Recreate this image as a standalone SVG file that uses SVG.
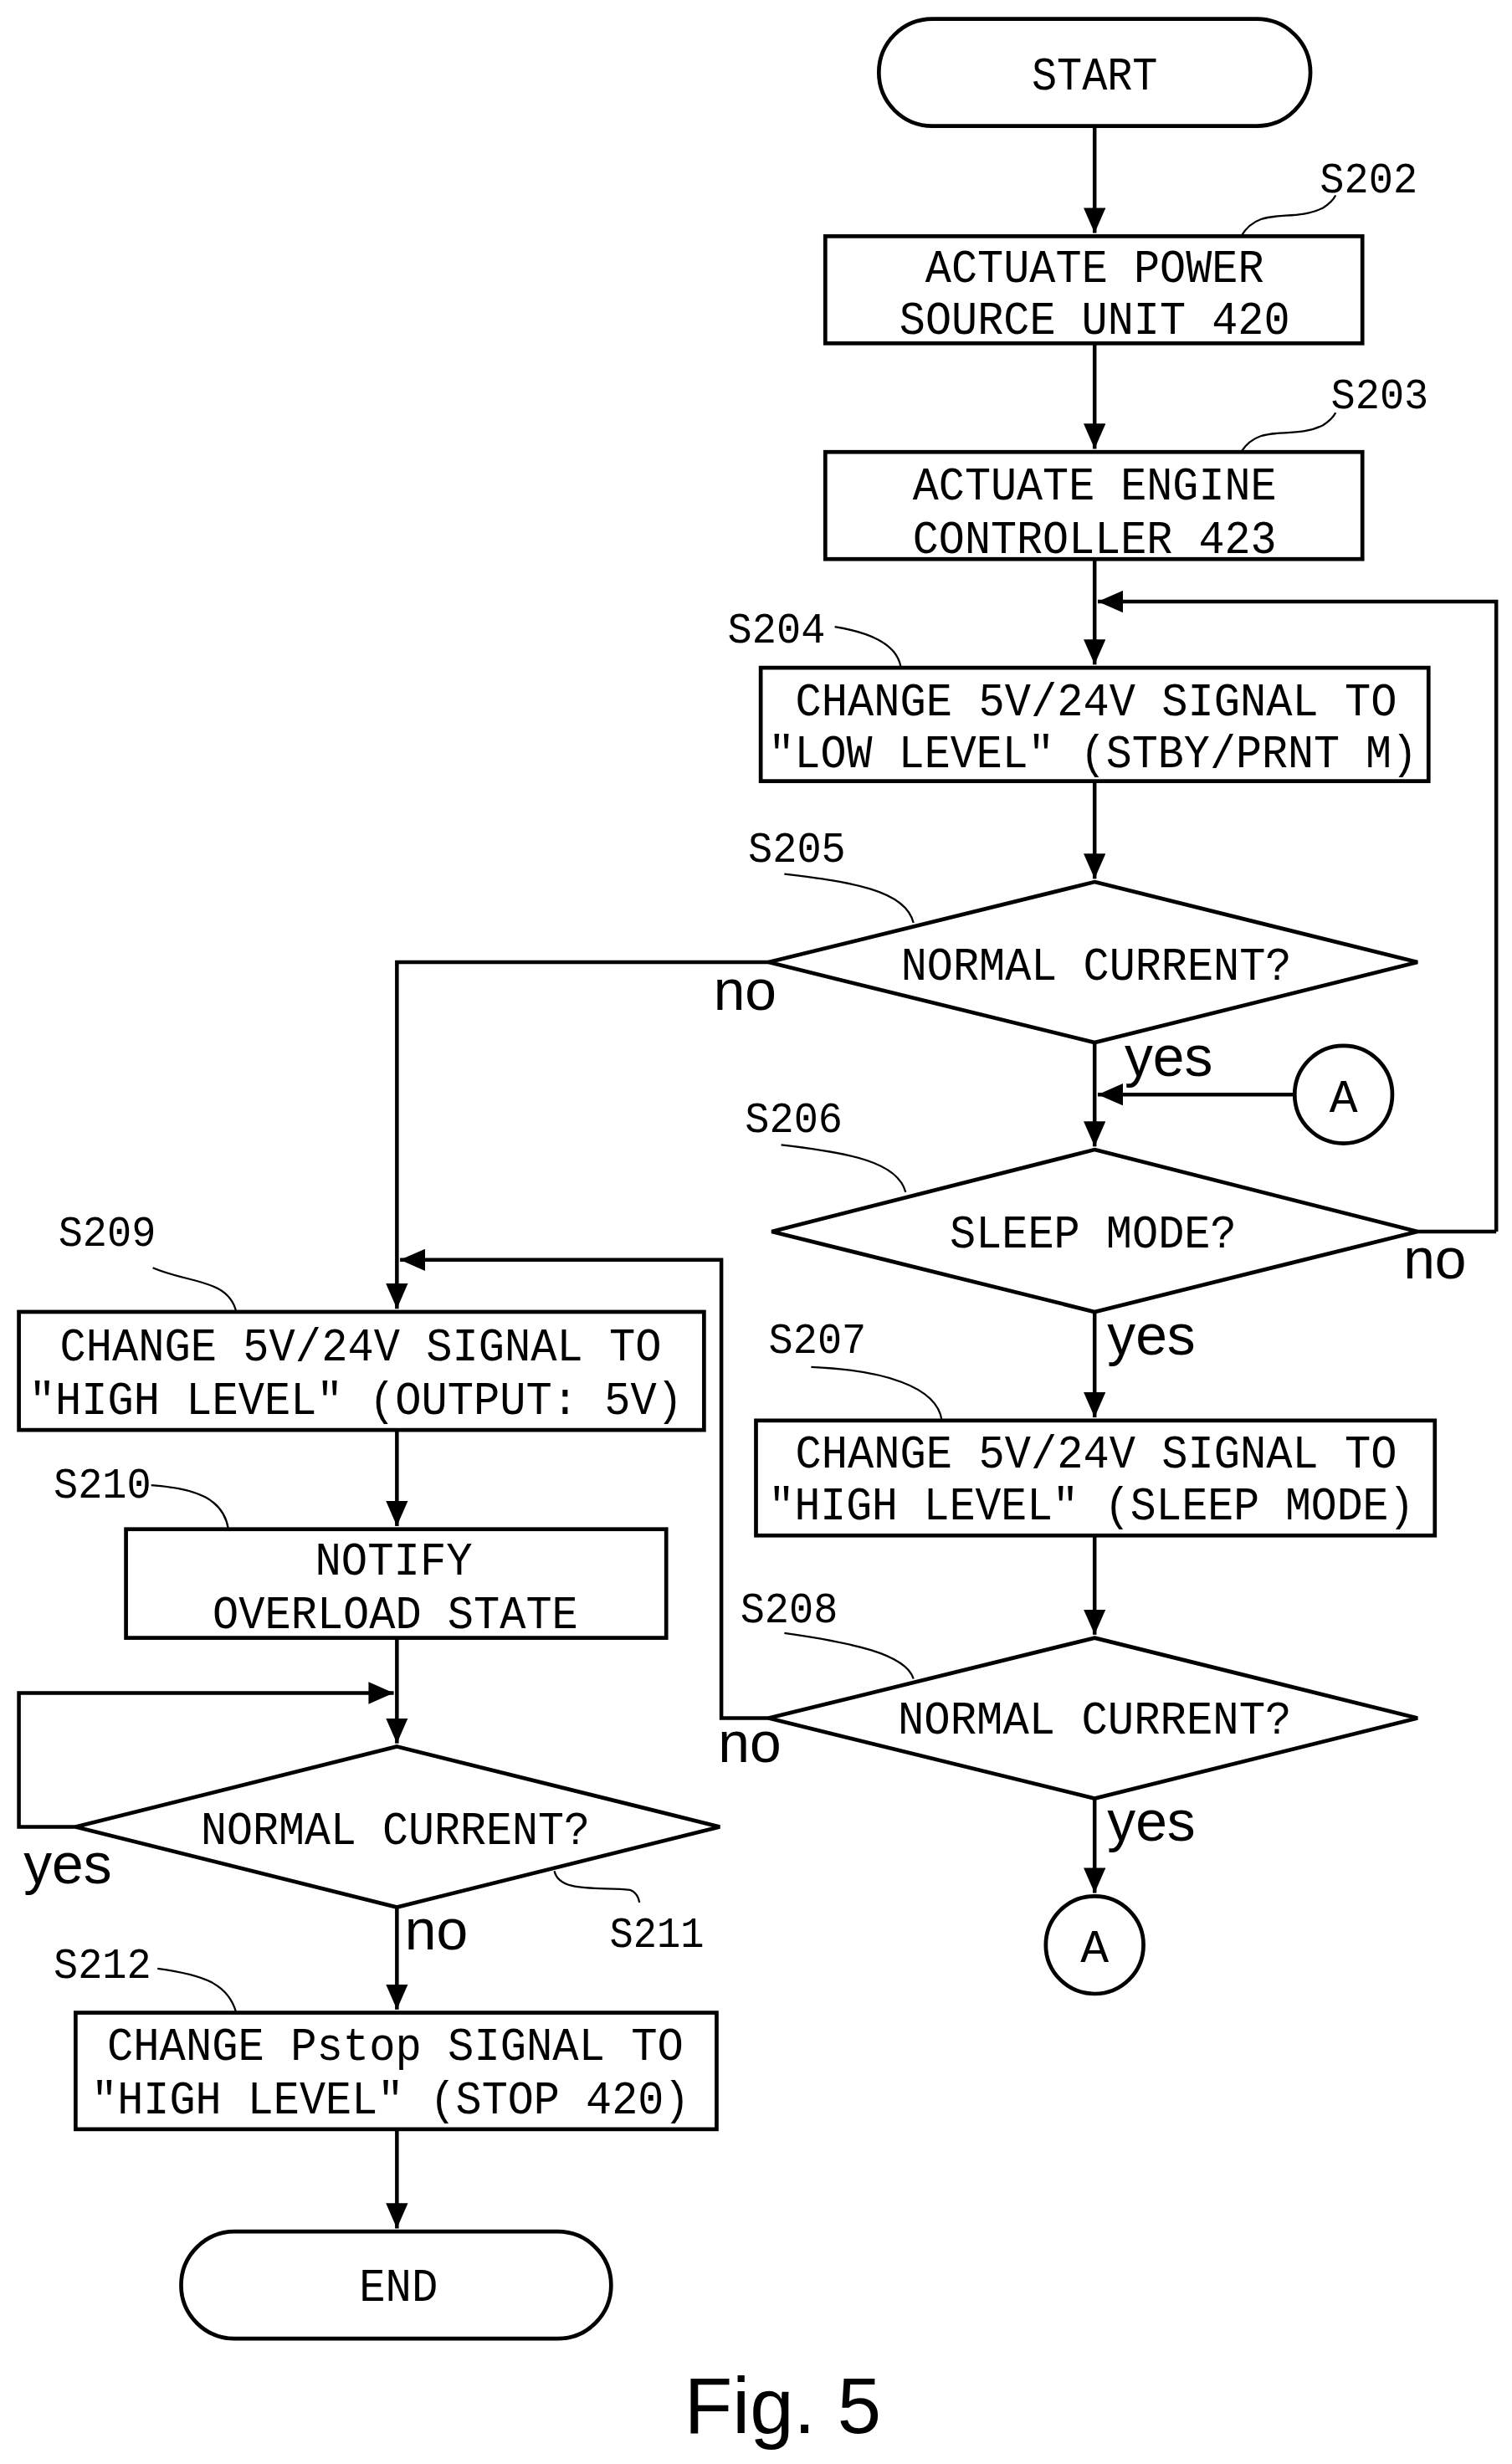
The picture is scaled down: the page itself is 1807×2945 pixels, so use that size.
<svg xmlns="http://www.w3.org/2000/svg" width="1807" height="2945" viewBox="0 0 1807 2945">
<defs>
<marker id="ah" markerWidth="16" markerHeight="14" refX="16" refY="7" orient="auto" markerUnits="userSpaceOnUse" viewBox="0 0 16 14"><path d="M0,0 L16,7 L0,14 z" fill="#000"/></marker>
<style>
.s{fill:#fff;stroke:#000;stroke-width:2.5}
.c{fill:none;stroke:#000;stroke-width:2.4}
.l{fill:none;stroke:#000;stroke-width:1.2}
.t{font-family:"Liberation Mono","Courier New",monospace;font-size:29px;text-anchor:middle;fill:#000}
.n{font-family:"Liberation Mono","Courier New",monospace;font-size:28px;fill:#000}
.y{font-family:"Liberation Sans",Arial,sans-serif;font-size:36px;fill:#000}
</style>
</defs>
<rect width="1807" height="2945" fill="#fff"/>
<g transform="scale(1.8823)">
<g id="connectors">
<path class="c" d="M695,80 V148" marker-end="url(#ah)"/>
<path class="c" d="M695,218 V285" marker-end="url(#ah)"/>
<path class="c" d="M695,355 V422" marker-end="url(#ah)"/>
<path class="c" d="M950,782 V382 H697" marker-end="url(#ah)"/>
<path class="c" d="M695,496 V558" marker-end="url(#ah)"/>
<path class="c" d="M695,662 V728" marker-end="url(#ah)"/>
<path class="c" d="M822,695 H697" marker-end="url(#ah)"/>
<path class="c" d="M900,782 H950"/>
<path class="c" d="M695,833 V900" marker-end="url(#ah)"/>
<path class="c" d="M695,975 V1038" marker-end="url(#ah)"/>
<path class="c" d="M695,1142 V1202" marker-end="url(#ah)"/>
<path class="c" d="M488,611 H252 V831" marker-end="url(#ah)"/>
<path class="c" d="M488,1091 H458 V800 H254" marker-end="url(#ah)"/>
<path class="c" d="M252,908 V969" marker-end="url(#ah)"/>
<path class="c" d="M252,1040 V1107" marker-end="url(#ah)"/>
<path class="c" d="M48,1160 H12 V1075 H250" marker-end="url(#ah)"/>
<path class="c" d="M252,1211 V1276" marker-end="url(#ah)"/>
<path class="c" d="M252,1352 V1415" marker-end="url(#ah)"/>
</g>
<g id="start"><rect class="s" x="558" y="12" width="274" height="68" rx="34"/><text class="t" x="695" y="57" textLength="80" lengthAdjust="spacingAndGlyphs">START</text></g>
<g id="s202"><rect class="s" x="524" y="150" width="341" height="68"/>
<text class="t" x="695" y="179" textLength="215" lengthAdjust="spacingAndGlyphs">ACTUATE POWER</text>
<text class="t" x="695" y="212" textLength="248" lengthAdjust="spacingAndGlyphs">SOURCE UNIT 420</text>
<path class="l" d="M788,150 C800,130 820,142 840,132 Q846,128 848,124"/><text class="n" x="838" y="122" textLength="62" lengthAdjust="spacingAndGlyphs">S202</text></g>
<g id="s203"><rect class="s" x="524" y="287" width="341" height="68"/>
<text class="t" x="695" y="317" textLength="231" lengthAdjust="spacingAndGlyphs">ACTUATE ENGINE</text>
<text class="t" x="695" y="351" textLength="231" lengthAdjust="spacingAndGlyphs">CONTROLLER 423</text>
<path class="l" d="M788,287 C800,268 820,280 840,270 Q846,266 848,262"/><text class="n" x="845" y="259" textLength="62" lengthAdjust="spacingAndGlyphs">S203</text></g>
<g id="s204"><rect class="s" x="483" y="424" width="424" height="72"/>
<text class="t" x="696" y="454" textLength="382" lengthAdjust="spacingAndGlyphs">CHANGE 5V/24V SIGNAL TO</text>
<text class="t" x="694" y="487" textLength="412" lengthAdjust="spacingAndGlyphs">″LOW LEVEL″ (STBY/PRNT M)</text>
<path class="l" d="M530,398 C555,402 570,410 572,424"/><text class="n" x="462" y="408" textLength="62" lengthAdjust="spacingAndGlyphs">S204</text></g>
<g id="s205"><polygon class="s" points="695,560 900,611 695,662 488,611"/>
<text class="t" x="696" y="622" textLength="248" lengthAdjust="spacingAndGlyphs">NORMAL CURRENT?</text>
<path class="l" d="M498,555 C540,560 575,565 580,586"/><text class="n" x="475" y="547" textLength="62" lengthAdjust="spacingAndGlyphs">S205</text></g>
<g id="a1"><circle class="s" cx="853" cy="695" r="31"/><text class="t" x="853" y="706" textLength="18" lengthAdjust="spacingAndGlyphs">A</text></g>
<g id="s206"><polygon class="s" points="695,730 900,782 695,833 490,782"/>
<text class="t" x="694" y="792" textLength="182" lengthAdjust="spacingAndGlyphs">SLEEP MODE?</text>
<path class="l" d="M496,727 C540,732 570,738 575,757"/><text class="n" x="473" y="719" textLength="62" lengthAdjust="spacingAndGlyphs">S206</text></g>
<g id="s207"><rect class="s" x="480" y="902" width="431" height="73"/>
<text class="t" x="696" y="932" textLength="382" lengthAdjust="spacingAndGlyphs">CHANGE 5V/24V SIGNAL TO</text>
<text class="t" x="693" y="965" textLength="410" lengthAdjust="spacingAndGlyphs">″HIGH LEVEL″ (SLEEP MODE)</text>
<path class="l" d="M515,868 C560,870 595,880 598,902"/><text class="n" x="488" y="859" textLength="62" lengthAdjust="spacingAndGlyphs">S207</text></g>
<g id="s208"><polygon class="s" points="695,1040 900,1091 695,1142 488,1091"/>
<text class="t" x="695" y="1101" textLength="250" lengthAdjust="spacingAndGlyphs">NORMAL CURRENT?</text>
<path class="l" d="M498,1037 C540,1043 575,1050 580,1066"/><text class="n" x="470" y="1030" textLength="62" lengthAdjust="spacingAndGlyphs">S208</text></g>
<g id="a2"><circle class="s" cx="695" cy="1235" r="31"/><text class="t" x="695" y="1246" textLength="18" lengthAdjust="spacingAndGlyphs">A</text></g>
<g id="s209"><rect class="s" x="12" y="833" width="435" height="75"/>
<text class="t" x="229" y="864" textLength="382" lengthAdjust="spacingAndGlyphs">CHANGE 5V/24V SIGNAL TO</text>
<text class="t" x="226" y="898" textLength="415" lengthAdjust="spacingAndGlyphs">″HIGH LEVEL″ (OUTPUT: 5V)</text>
<path class="l" d="M97,805 C120,815 145,812 150,833"/><text class="n" x="37" y="791" textLength="62" lengthAdjust="spacingAndGlyphs">S209</text></g>
<g id="s210"><rect class="s" x="80" y="971" width="343" height="69"/>
<text class="t" x="250" y="1000" textLength="100" lengthAdjust="spacingAndGlyphs">NOTIFY</text>
<text class="t" x="251" y="1034" textLength="232" lengthAdjust="spacingAndGlyphs">OVERLOAD STATE</text>
<path class="l" d="M96,943 C125,945 142,952 145,971"/><text class="n" x="34" y="951" textLength="62" lengthAdjust="spacingAndGlyphs">S210</text></g>
<g id="s211"><polygon class="s" points="252,1109 457,1160 252,1211 48,1160"/>
<text class="t" x="251" y="1171" textLength="247" lengthAdjust="spacingAndGlyphs">NORMAL CURRENT?</text>
<path class="l" d="M352,1188 C355,1202 380,1198 400,1200 Q405,1202 406,1208"/><text class="n" x="387" y="1236" textLength="60" lengthAdjust="spacingAndGlyphs">S211</text></g>
<g id="s212"><rect class="s" x="48" y="1278" width="407" height="74"/>
<text class="t" x="251" y="1308" textLength="366" lengthAdjust="spacingAndGlyphs">CHANGE Pstop SIGNAL TO</text>
<text class="t" x="248" y="1342" textLength="380" lengthAdjust="spacingAndGlyphs">″HIGH LEVEL″ (STOP 420)</text>
<path class="l" d="M100,1250 C130,1254 145,1260 150,1278"/><text class="n" x="34" y="1256" textLength="62" lengthAdjust="spacingAndGlyphs">S212</text></g>
<g id="end"><rect class="s" x="115" y="1417" width="273" height="68" rx="34"/><text class="t" x="253" y="1461" textLength="50" lengthAdjust="spacingAndGlyphs">END</text></g>
<g id="labels">
<text class="y" x="453" y="641">no</text>
<text class="y" x="714" y="683">yes</text>
<text class="y" x="891" y="812">no</text>
<text class="y" x="703" y="860">yes</text>
<text class="y" x="456" y="1119">no</text>
<text class="y" x="703" y="1169">yes</text>
<text class="y" x="15" y="1196">yes</text>
<text class="y" x="257" y="1238">no</text>
<text x="497" y="1545" style="font-family:'Liberation Sans',Arial,sans-serif;font-size:50px;text-anchor:middle">Fig. 5</text>
</g>
</g>
</svg>
